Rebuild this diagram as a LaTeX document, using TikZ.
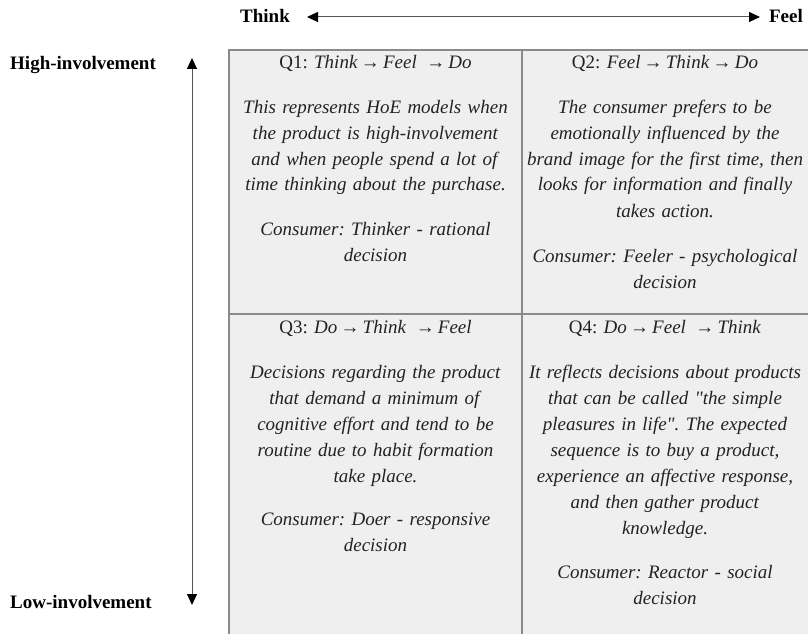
\documentclass[tikz,border=0pt]{standalone}
\usepackage{fontspec}
\setmainfont{Liberation Serif}
\usetikzlibrary{arrows.meta}
\frenchspacing
\definecolor{cellfill}{HTML}{EFEFEF}
\definecolor{cellline}{HTML}{8A8A8A}
\definecolor{txt}{HTML}{222222}
\definecolor{axis}{HTML}{555555}
\tikzset{
  cell/.style={fill=cellfill,draw=cellline,line width=1.4pt},
  celltext/.style={anchor=base,text width=290pt,align=center,inner sep=0pt,text=txt,
    font=\fontsize{19}{26}\selectfont},
  lab/.style={inner sep=0pt,font=\fontsize{19}{23}\selectfont\bfseries,text=black},
  axisarrow/.style={draw=axis,line width=1pt,{Triangle[length=11pt,width=10pt,color=black]}-{Triangle[length=11pt,width=10pt,color=black]}}
}
\begin{document}
\begin{tikzpicture}[x=1pt,y=-1pt]
\useasboundingbox (0,0) rectangle (808,634);
\begin{scope}
\clip (0,0) rectangle (808,634);
\draw[cell] (229,50) rectangle (522,314);
\draw[cell] (522,50) rectangle (814,314);
\draw[cell] (229,314) rectangle (522,640);
\draw[cell] (522,314) rectangle (814,640);
\end{scope}

\node[celltext] (q1) at (375.5,68) {Q1: \textit{Think}\,→\,\textit{Feel}\ \,→\,\textit{Do}\\[19pt]
\textit{This represents HoE models when}\\
\textit{the product is high-involvement}\\
\textit{and when people spend a lot of}\\
\textit{time thinking about the purchase.}\\[18pt]
\textit{Consumer: Thinker - rational}\\
\textit{decision}};

\node[celltext] (q2) at (665,68) {Q2: \textit{Feel}\,→\,\textit{Think}\,→\,\textit{Do}\\[19pt]
\textit{The consumer prefers to be}\\
\textit{emotionally influenced by the}\\
\textit{brand image for the first time, then}\\
\textit{looks for information and finally}\\
\textit{takes action.}\\[19pt]
\textit{Consumer: Feeler - psychological}\\
\textit{decision}};

\node[celltext] (q3) at (375.5,333) {Q3: \textit{Do}\,→\,\textit{Think}\ \,→\,\textit{Feel}\\[19pt]
\textit{Decisions regarding the product}\\
\textit{that demand a minimum of}\\
\textit{cognitive effort and tend to be}\\
\textit{routine due to habit formation}\\
\textit{take place.}\\[17pt]
\textit{Consumer: Doer - responsive}\\
\textit{decision}};

\node[celltext] (q4) at (665,333) {Q4: \textit{Do}\,→\,\textit{Feel}\ \,→\,\textit{Think}\\[19pt]
\textit{It reflects decisions about products}\\
\textit{that can be called \textquotedbl the simple}\\
\textit{pleasures in life\textquotedbl. The expected}\\
\textit{sequence is to buy a product,}\\
\textit{experience an affective response,}\\
\textit{and then gather product}\\
\textit{knowledge.}\\[18pt]
\textit{Consumer: Reactor - social}\\
\textit{decision}};

\node[lab,anchor=base west] (think) at (240,23) {Think};
\node[lab,anchor=base east] (feel) at (803,23) {Feel};
\node[lab,anchor=base west] (high) at (10,70) {High-involvement};
\node[lab,anchor=base west] (low) at (10,608) {Low-involvement};

\coordinate (hl) at (307,17);
\coordinate (hr) at (760,17);
\coordinate (vt) at (192,58);
\coordinate (vb) at (192,605);
\draw[axisarrow] (hl) -- (hr);
\draw[axisarrow] (vt) -- (vb);
\end{tikzpicture}
\end{document}
